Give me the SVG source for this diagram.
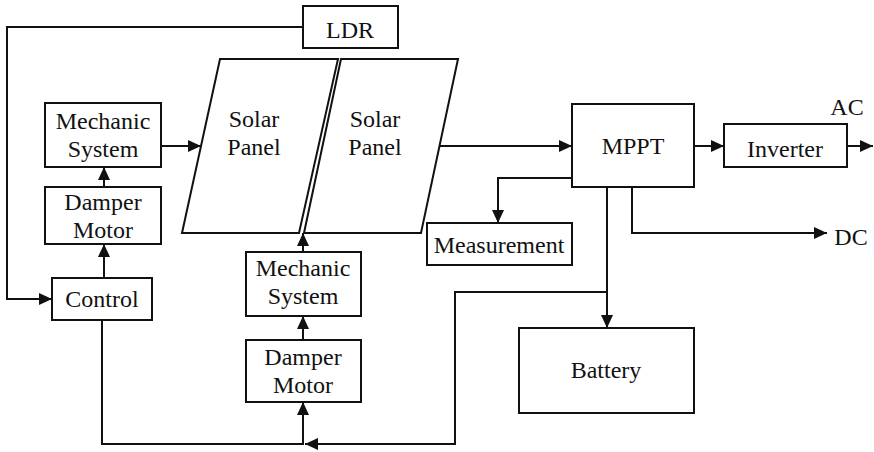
<svg xmlns="http://www.w3.org/2000/svg" width="874" height="452" viewBox="0 0 874 452">
<style>
.box{fill:#fff;stroke:#111;stroke-width:2}
.t{font-family:'Liberation Serif','DejaVu Serif','Times New Roman',serif;font-size:24px;fill:#111;text-anchor:middle}
.c{fill:none;stroke:#111;stroke-width:2}
</style>
<defs>
<marker id="ah" markerUnits="userSpaceOnUse" markerWidth="13" markerHeight="12" refX="13" refY="6" orient="auto"><path d="M0,0 L13,6 L0,12 z" fill="#111"/></marker>
</defs>
<rect width="874" height="452" fill="#fff"/>
<g id="connectors">
<path class="c" d="M303,27 H7 V299 H52" marker-end="url(#ah)"/>
<path class="c" d="M104,278 V244" marker-end="url(#ah)"/>
<path class="c" d="M104,187 V167" marker-end="url(#ah)"/>
<path class="c" d="M161,146 H201" marker-end="url(#ah)"/>
<path class="c" d="M440,146 H572" marker-end="url(#ah)"/>
<path class="c" d="M694,146 H724" marker-end="url(#ah)"/>
<path class="c" d="M847,146 H873" marker-end="url(#ah)"/>
<path class="c" d="M572,178 H498 V223" marker-end="url(#ah)"/>
<path class="c" d="M632,187 V233 H827" marker-end="url(#ah)"/>
<path class="c" d="M607,187 V328" marker-end="url(#ah)"/>
<path class="c" d="M607,292 H455 V444 H305" marker-end="url(#ah)"/>
<path class="c" d="M102,320 V444 H303 V402" marker-end="url(#ah)"/>
<path class="c" d="M303,340 V316" marker-end="url(#ah)"/>
<path class="c" d="M303,252 V233" marker-end="url(#ah)"/>
</g>
<g id="ldr"><rect class="box" x="303" y="6" width="95" height="42"/><text class="t" x="350" y="38">LDR</text></g>
<g id="panel1"><path class="box" d="M220,59 H338 L299,233 H182 Z"/><text class="t" x="254" y="127">Solar</text><text class="t" x="254" y="155">Panel</text></g>
<g id="panel2"><path class="box" d="M341,59 H458 L421,233 H304 Z"/><text class="t" x="375" y="127">Solar</text><text class="t" x="375" y="155">Panel</text></g>
<g id="mech-left"><rect class="box" x="45" y="103" width="116" height="64"/><text class="t" x="103" y="129">Mechanic</text><text class="t" x="103" y="157">System</text></g>
<g id="damper-left"><rect class="box" x="45" y="187" width="116" height="57"/><text class="t" x="103" y="210">Damper</text><text class="t" x="103" y="238">Motor</text></g>
<g id="control"><rect class="box" x="52" y="278" width="100" height="42"/><text class="t" x="102" y="307">Control</text></g>
<g id="mech-center"><rect class="box" x="246" y="252" width="115" height="64"/><text class="t" x="303" y="276">Mechanic</text><text class="t" x="303" y="304">System</text></g>
<g id="damper-center"><rect class="box" x="246" y="340" width="115" height="62"/><text class="t" x="303" y="365">Damper</text><text class="t" x="303" y="393">Motor</text></g>
<g id="mppt"><rect class="box" x="572" y="104" width="122" height="83"/><text class="t" x="633" y="154">MPPT</text></g>
<g id="inverter"><rect class="box" x="724" y="124" width="123" height="43"/><text class="t" x="785" y="157">Inverter</text></g>
<g id="ac"><text class="t" x="847" y="115">AC</text></g>
<g id="dc"><text class="t" x="851" y="245">DC</text></g>
<g id="measurement"><rect class="box" x="427" y="223" width="145" height="42"/><text class="t" x="499" y="253">Measurement</text></g>
<g id="battery"><rect class="box" x="519" y="328" width="175" height="85"/><text class="t" x="606" y="378">Battery</text></g>
</svg>
